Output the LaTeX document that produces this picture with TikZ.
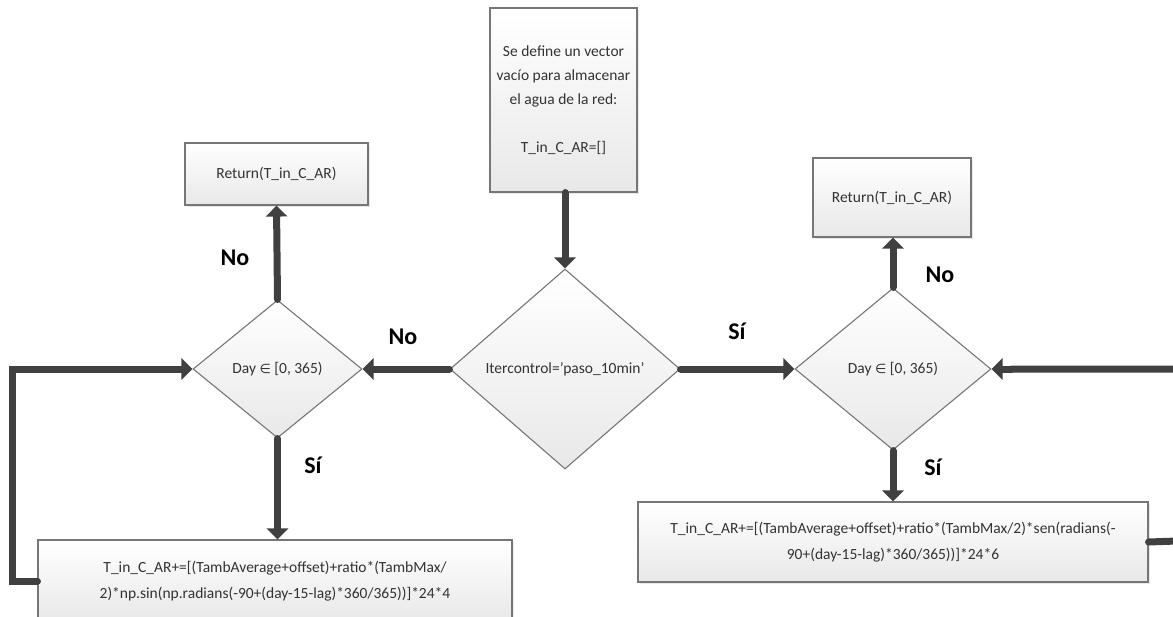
\documentclass[tikz,border=0pt]{standalone}
\usepackage{fontspec}
\setmainfont{Carlito}
\newfontfamily\symfont{DejaVu Sans}
\usetikzlibrary{shapes.geometric,arrows.meta,shadows}
\definecolor{edge}{HTML}{767676}
\definecolor{ink}{HTML}{333333}
\definecolor{flow}{HTML}{404040}
\newcommand{\elemof}{{\symfont\fontsize{13}{13}\selectfont ∈}}
\tikzset{
  procbox/.style={draw=edge, line width=1.1pt, rectangle, inner sep=2pt,
    top color=white, bottom color=black!9, text=ink, align=center,
    font=\fontsize{15.5}{24}\selectfont,
    drop shadow={opacity=0.18, shadow xshift=2pt, shadow yshift=-2pt}},
  decision/.style={draw=edge, line width=1.1pt, diamond, inner sep=0pt,
    top color=white, bottom color=black!9, text=ink,
    font=\fontsize{15.5}{17}\selectfont},
  flowline/.style={draw=flow, line width=7pt, line cap=round,
    -{Triangle[length=11pt,width=21pt]}},
  loopline/.style={draw=flow, line width=7pt, line cap=round, line join=miter},
  answer/.style={text=black, font=\fontsize{24}{24}\selectfont\bfseries}
}
\begin{document}
\begin{tikzpicture}[x=1pt,y=1pt]
  \useasboundingbox (0,0) rectangle (1173,-616);
  \clip (0,0) rectangle (1173,-616);

  % process boxes
  \node[procbox, minimum width=147pt, minimum height=184pt] (init) at (563.5,-100)
    {Se define un vector\\vacío para almacenar\\el agua de la red:\\[24pt]T\_in\_C\_AR=[]};
  \node[procbox, minimum width=183pt, minimum height=62pt] (lret) at (276.5,-174) {Return(T\_in\_C\_AR)};
  \node[procbox, minimum width=158pt, minimum height=79pt] (rret) at (892,-197.5) {Return(T\_in\_C\_AR)};
  \node[procbox, minimum width=474pt, minimum height=82pt, font=\fontsize{15.5}{26}\selectfont] (lcalc) at (275,-581)
    {T\_in\_C\_AR+=[(TambAverage+offset)+ratio*(TambMax/\\2)*np.sin(np.radians(-90+(day-15-lag)*360/365))]*24*4};
  \node[procbox, minimum width=510pt, minimum height=80pt, font=\fontsize{15.5}{26}\selectfont] (rcalc) at (893,-542)
    {T\_in\_C\_AR+=[(TambAverage+offset)+ratio*(TambMax/2)*sen(radians(-\\90+(day-15-lag)*360/365))]*24*6};

  % decisions
  \node[decision, minimum width=230pt, minimum height=200pt] (ctrl) at (565,-369) {Itercontrol=’paso\_10min’};
  \node[decision, minimum width=169pt, minimum height=138pt] (ldia) at (277.5,-369) {Day \elemof{} [0, 365)};
  \node[decision, minimum width=196pt, minimum height=162pt] (rdia) at (893,-369) {Day \elemof{} [0, 365)};

  % connectors
  \draw[flowline] (ctrl.north |- init.south) -- (ctrl.north);
  \draw[flowline] (ctrl.west) -- (ldia.east);
  \draw[flowline] (ctrl.east) -- (rdia.west);
  \draw[flowline] (ldia.north) -- (lret.south);
  \draw[flowline] (ldia.south) -- (lcalc.north -| ldia.south);
  \draw[flowline] (rdia.north) -- (rret.south -| rdia.north);
  \draw[flowline] (rdia.south) -- (rcalc.north -| rdia.south);

  % loop-back lines
  \coordinate (lturn) at (12,-581);
  \coordinate (rturn) at (1177,-541);
  \draw[loopline] (lcalc.west) -- (lturn) |- ([xshift=-20pt]ldia.west);
  \draw[flowline] ([xshift=-20pt]ldia.west) -- (ldia.west);
  \draw[loopline] (rcalc.east) -- (rturn) |- ([xshift=20pt]rdia.east);
  \draw[flowline] ([xshift=20pt]rdia.east) -- (rdia.east);

  % branch labels
  \node[answer] (l1) at (235,-258) {No};
  \node[answer] (l2) at (403,-337) {No};
  \node[answer] (l3) at (313,-465) {Sí};
  \node[answer] (l4) at (737,-331) {Sí};
  \node[answer] (l5) at (940,-275) {No};
  \node[answer] (l6) at (933,-467) {Sí};
\end{tikzpicture}
\end{document}
